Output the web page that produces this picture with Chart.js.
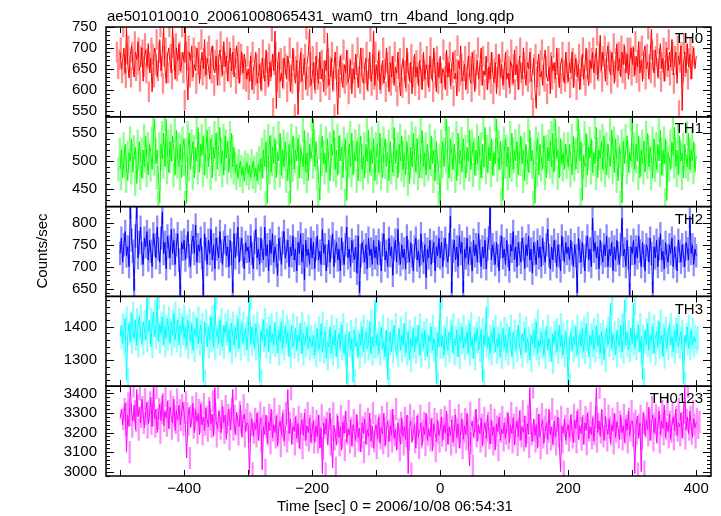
<!DOCTYPE html>
<html>
<head>
<meta charset="utf-8">
<script src="https://cdn.jsdelivr.net/npm/chart.js@4.4.1/dist/chart.umd.min.js"></script>
<style>
  body { margin: 0; background: #fff; }
  #wrap { position: relative; width: 721px; height: 516px; font-family: "Liberation Sans", Arial, sans-serif; color: #000; }
  #c { position: absolute; left: 0; top: 0; }
  .txt { position: absolute; font-size: 15px; line-height: 15px; white-space: nowrap; }
  .lab { right: 18px; }
</style>
</head>
<body>
<div id="wrap">
  <canvas id="c" width="721" height="516"></canvas>
  <div class="txt" style="left:107px; top:8px;">ae501010010_20061008065431_wam0_trn_4band_long.qdp</div>
  <div class="txt" style="left:-8px; top:243px; width:100px; line-height:16px; text-align:center; transform: rotate(-90deg);">Counts/sec</div>
  <div class="txt" style="left:277px; top:498px;">Time [sec] 0 = 2006/10/08 06:54:31</div>
  <div class="txt lab" style="top:30px;">TH0</div>
  <div class="txt lab" style="top:120px;">TH1</div>
  <div class="txt lab" style="top:211px;">TH2</div>
  <div class="txt lab" style="top:301px;">TH3</div>
  <div class="txt lab" style="top:390px;">TH0123</div>
</div>
<script>
// ---------- DATA ----------
// time bins, 2 s apart, -500 .. 400
var tStart = -500, tStep = 2, nBins = 451;
var times = [];
for (var i = 0; i < nBins; i++) times.push(tStart + i * tStep);

// counts/sec, one row = 100 s
var th0 = [
  690,650,672,700,640,750,660,628,685,705,655,630,690,672,715,645,660,700,620,680,695,655,710,640,675,595,665,700,685,630,660,720,645,690,750,655,615,680,700,665,640,750,685,625,700,670,710,645,660,690,
  665,750,640,575,690,670,705,630,660,645,700,680,615,660,690,650,720,635,675,655,625,690,705,650,640,680,610,670,695,660,635,715,655,680,620,665,700,645,690,630,660,705,675,615,650,690,640,685,660,625,
  650,620,680,600,645,665,690,615,635,660,600,675,640,620,695,650,610,665,630,685,645,740,555,660,690,620,640,605,675,650,625,680,660,595,645,700,635,615,670,540,655,690,620,640,675,600,660,685,745,610,
  630,665,600,680,640,615,690,625,650,595,670,645,735,610,630,675,600,655,690,620,540,650,680,625,605,660,640,695,615,635,670,590,650,625,685,640,605,660,700,630,615,655,675,600,640,690,620,650,740,610,
  660,625,690,600,645,670,615,635,700,650,595,665,630,680,610,655,640,690,620,585,650,675,635,605,700,645,620,665,590,640,685,630,655,610,670,640,600,690,625,660,645,605,680,635,620,700,650,595,665,630,
  680,615,650,640,600,695,630,665,610,655,690,625,640,585,670,650,705,620,635,660,600,645,680,630,615,690,655,595,640,670,625,660,700,610,645,635,680,600,655,625,690,640,615,665,590,650,685,630,660,610,
  650,690,625,640,605,670,655,615,695,635,660,600,680,645,625,700,640,610,665,650,690,620,640,675,600,555,660,685,630,645,610,670,695,635,620,655,590,680,645,665,625,700,640,605,660,675,630,615,690,645,
  620,665,640,690,605,650,675,630,660,600,645,685,625,655,700,635,610,670,650,690,640,675,700,625,660,730,645,690,665,620,680,705,650,635,690,670,615,660,710,645,675,630,690,660,705,640,685,625,665,700,
  660,700,635,680,655,715,640,670,620,690,705,650,665,625,685,745,660,640,695,670,630,680,710,650,675,620,665,700,645,690,655,720,635,670,690,615,680,660,705,550,665,690,640,710,655,685,625,675,700,650,
  680
];
var th1 = [
  485,520,470,505,530,490,465,515,500,540,480,510,525,460,495,535,505,470,520,490,545,500,475,530,515,485,540,575,495,520,470,425,530,505,550,490,575,515,480,535,500,545,520,475,555,505,490,530,470,525,
  540,495,425,520,550,485,515,535,470,525,500,560,480,530,510,545,475,520,555,490,515,540,470,525,505,550,485,530,560,495,520,475,545,505,535,480,515,550,490,525,480,495,470,488,500,475,490,465,485,498,
  478,492,470,485,500,472,488,465,495,480,505,470,520,490,535,425,510,545,480,525,495,540,470,515,500,550,475,520,490,535,505,465,530,425,515,545,485,520,500,540,470,525,510,490,555,480,515,465,530,505,
  520,575,490,535,505,470,430,525,545,495,515,480,540,500,465,530,510,555,485,520,475,545,500,525,470,515,540,430,505,530,490,550,475,515,500,535,465,520,545,485,510,470,530,500,555,480,520,495,540,465,
  505,530,480,550,500,470,520,540,490,515,465,535,505,480,560,495,520,470,530,500,545,485,515,475,535,505,460,525,490,550,510,480,540,500,470,525,555,490,515,475,530,505,485,545,495,520,465,535,500,480,
  425,510,535,490,520,575,500,470,540,515,485,530,505,465,550,495,520,480,540,510,470,525,500,555,485,515,535,475,520,495,545,505,470,530,490,560,510,480,525,500,540,475,515,495,575,520,485,535,505,430,
  515,540,490,525,470,505,550,485,520,500,535,475,510,545,495,520,465,530,505,480,555,500,520,490,425,515,540,475,530,505,485,545,510,470,525,500,535,490,550,480,575,505,520,470,540,495,515,485,530,510,
  490,530,505,475,545,515,485,520,575,500,535,430,510,490,550,475,525,505,540,480,515,495,560,470,520,505,535,485,545,500,475,530,510,490,555,520,480,540,500,465,525,510,425,535,495,520,545,480,515,500,
  575,510,485,530,500,545,470,520,495,535,480,515,550,490,525,505,470,540,510,485,530,500,555,475,520,495,540,430,515,505,485,535,510,560,490,520,475,545,500,515,470,530,505,490,550,485,520,500,535,480,
  510
];
var th2 = [
  730,765,710,750,780,725,745,700,836,760,735,645,770,836,720,755,790,730,705,765,745,780,715,760,735,700,775,750,720,790,740,710,765,825,730,755,695,770,745,720,785,730,760,705,750,775,715,635,755,740,
  760,715,745,780,725,700,755,770,730,795,710,750,735,765,720,635,775,740,705,760,730,785,715,750,695,765,740,720,780,735,705,755,770,725,745,700,760,730,640,775,720,750,790,710,740,765,725,695,755,735,
  745,710,770,730,695,755,785,720,740,705,765,735,715,790,725,750,690,760,730,775,710,745,725,680,765,740,705,755,780,720,735,760,700,745,725,770,715,740,690,755,730,775,710,750,670,760,725,740,705,765,
  720,755,695,740,770,715,735,705,785,730,750,690,725,760,710,745,775,700,735,755,715,740,690,765,730,705,750,790,720,740,700,760,735,715,745,685,770,640,725,755,735,710,750,695,765,725,740,705,760,720,
  745,705,760,730,690,750,775,715,735,700,765,725,745,680,740,760,710,785,730,705,750,720,740,695,770,735,710,755,725,690,745,765,715,735,700,775,730,710,750,675,740,720,760,705,735,755,690,745,725,765,
  720,755,700,740,765,725,710,750,815,640,735,760,715,745,700,770,730,755,640,740,720,765,705,745,730,690,760,725,750,710,775,735,700,745,720,760,695,740,765,835,715,750,730,705,755,725,690,745,770,720,
  740,705,760,725,690,750,735,780,715,745,700,755,730,710,765,740,695,750,725,770,715,740,685,755,730,705,760,720,745,700,765,730,710,750,785,725,695,745,715,760,735,700,750,725,690,770,740,710,755,730,
  745,715,760,730,700,750,725,640,765,735,710,755,725,690,745,770,715,740,700,810,735,755,720,745,695,760,730,710,750,725,770,700,740,725,755,690,745,715,760,730,705,750,810,725,740,700,760,720,635,745,
  730,760,705,745,720,770,735,700,755,725,690,750,740,710,765,730,640,745,720,760,700,740,775,715,735,695,755,725,710,750,730,765,700,745,720,690,760,735,710,750,725,700,755,740,715,815,730,750,705,740,
  725
];
var th3 = [
  1370,1405,1350,1395,1425,1240,1380,1410,1355,1440,1390,1365,1420,1345,1400,1430,1375,1350,1415,1395,1360,1488,1385,1420,1340,1405,1445,1370,1395,1488,1355,1410,1380,1430,1345,1400,1365,1425,1390,1350,1415,1375,1440,1360,1395,1420,1345,1405,1380,1430,
  1365,1400,1340,1420,1380,1355,1410,1330,1395,1370,1425,1350,1385,1405,1345,1235,1415,1375,1340,1400,1360,1430,1385,1335,1488,1370,1395,1350,1420,1365,1340,1405,1380,1415,1355,1390,1325,1410,1370,1345,1400,1360,1425,1335,1385,1410,1350,1375,1395,1330,
  1380,1488,1350,1400,1365,1335,1410,1375,1345,1235,1390,1360,1420,1340,1375,1395,1325,1405,1355,1380,1345,1410,1365,1320,1390,1355,1415,1335,1375,1400,1350,1385,1310,1370,1405,1340,1360,1395,1330,1375,1355,1410,1320,1380,1345,1365,1400,1335,1370,1350,
  1340,1375,1315,1360,1395,1330,1350,1410,1325,1365,1385,1305,1355,1340,1400,1320,1370,1345,1390,1310,1360,1380,1335,1405,1350,1320,1375,1230,1345,1385,1330,1365,1235,1390,1340,1355,1310,1380,1345,1400,1325,1360,1385,1335,1350,1415,1320,1370,1340,1480,
  1345,1380,1320,1365,1400,1335,1355,1310,1390,1240,1350,1385,1325,1370,1405,1340,1315,1360,1395,1330,1375,1345,1410,1320,1355,1385,1300,1365,1340,1395,1325,1370,1350,1405,1315,1360,1380,1335,1390,1345,1310,1375,1355,1400,1330,1365,1345,1230,1385,1340,
  1488,1340,1370,1315,1395,1350,1330,1385,1360,1405,1320,1365,1345,1390,1310,1375,1355,1400,1335,1370,1350,1385,1320,1410,1340,1365,1305,1380,1355,1395,1330,1360,1390,1235,1375,1345,1460,1335,1370,1320,1385,1355,1400,1325,1365,1340,1380,1310,1360,1395,
  1335,1375,1320,1360,1400,1345,1310,1385,1355,1330,1370,1405,1340,1315,1380,1355,1395,1325,1365,1345,1300,1375,1350,1390,1335,1415,1320,1360,1340,1385,1355,1310,1370,1400,1330,1365,1345,1295,1380,1350,1390,1325,1360,1405,1340,1375,1315,1355,1385,1335,
  1225,1360,1385,1330,1370,1345,1400,1315,1355,1380,1340,1395,1325,1365,1410,1350,1310,1375,1345,1390,1330,1360,1405,1340,1375,1320,1385,1355,1300,1370,1395,1345,1365,1470,1335,1380,1350,1315,1390,1360,1340,1405,1325,1370,1480,1345,1385,1330,1360,1395,
  1350,1470,1335,1380,1360,1405,1325,1370,1240,1355,1390,1345,1410,1330,1375,1355,1400,1320,1365,1385,1340,1415,1350,1375,1310,1395,1360,1335,1380,1405,1345,1370,1325,1390,1355,1410,1340,1365,1385,1330,1230,1375,1350,1400,1335,1360,1390,1345,1370,1355,
  1365
];
var th0123 = [
  3270,3320,3240,3300,3350,3100,3290,3230,3435,3310,3260,3340,3215,3420,3280,3330,3250,3370,3295,3225,3310,3355,3245,3290,3380,3230,3430,3270,3320,3200,3300,3345,3260,3390,3235,3310,3275,3360,3220,3330,3285,3250,3370,3210,3315,3265,3340,3240,3300,3355,
  3300,3240,3070,3285,3330,3225,3270,3350,3200,3315,3255,3300,3190,3345,3240,3280,3210,3325,3265,3230,3360,3245,3295,3180,3430,3260,3220,3310,3275,3200,3335,3250,3290,3165,3270,3320,3215,3285,3420,3240,3190,3305,3255,3230,3340,3180,3265,3295,3205,3250,
  3240,2990,3200,3270,3180,3250,3215,3300,3160,3235,3275,3010,3230,3190,3290,3145,3255,3210,3320,3175,3240,3200,3285,3130,3225,3260,3185,3300,3155,3215,3250,3420,3195,3270,3140,3230,3205,3280,3170,3245,3120,3215,3265,3185,3300,3160,3235,3200,3275,3150,
  3210,3260,3150,3235,3180,3290,3120,3225,2990,3250,3190,3270,3140,3215,3300,3165,3020,3240,3200,3135,3285,3175,3230,3110,3255,3195,3310,3150,3220,3185,3265,3130,3240,3205,3160,3290,3175,3225,3100,3250,3195,3270,3140,3215,3180,3300,3155,3235,3120,3210,
  3240,3170,3280,3145,3225,3195,3300,3130,3210,3260,3155,3235,3185,3320,3170,3215,3110,3250,3200,3140,3275,3180,3230,3165,3290,2990,3220,3260,3150,3195,3240,3120,3285,3175,3210,3250,3135,3230,3190,3300,3160,3220,3180,3270,3105,3245,3200,3155,3265,3185,
  3220,3280,3160,3240,3195,3310,3140,3230,3185,3265,3150,3215,3290,3175,3245,3120,3205,3270,3165,3235,3190,3300,3145,3030,3225,3260,3180,3215,3320,3155,3240,3195,3275,3130,3210,3250,3170,3290,3200,3140,3265,3185,3230,3110,3245,3205,3280,3160,3220,3195,
  3250,3170,3225,3300,3150,3240,3195,3275,3135,3215,3260,3180,3310,3160,3230,3200,3285,3125,3245,3190,3430,3210,3155,3270,3185,3240,3120,3295,3175,3225,3265,3145,3205,3250,3165,3320,3190,3230,3140,3260,3180,3215,3280,3150,3000,3235,3195,3270,3160,3210,
  3240,3175,3290,3205,3150,3265,3220,3310,3165,3235,3195,3280,3140,3250,3210,3300,3170,3230,3190,3275,3155,3245,3430,3200,3260,3180,3320,3215,3160,3285,3225,3190,3270,3145,3240,3205,3300,3175,3255,3220,3165,3290,3200,3235,3150,3270,3210,3310,3185,3245,
  3260,3195,2990,3240,3285,3170,3250,3000,3230,3300,3185,3265,3215,3330,3160,3245,3290,3200,3275,3150,3235,3310,3190,3260,3220,3340,3175,3255,3205,3295,3165,3240,3280,3210,3320,3185,3250,3230,3300,3170,3265,3435,3215,3280,3195,3310,3240,3175,3270,3225,
  3255
];

var series = [th0, th1, th2, th3, th0123];
var seriesNames = ['TH0', 'TH1', 'TH2', 'TH3', 'TH0123'];
// half length of the light error bars (counts/sec)
var errBars = [24, 21, 26, 35, 55];
var lineColors = ['#ff0000', '#00ff00', '#0000ff', '#00ffff', '#ff00ff'];
var errColors = ['#ff8c8c', '#8cff8c', '#8c8cff', '#8cffff', '#ff8cff'];

// axes
var xMin = -522, xMax = 423;
var xTicks = [-400, -200, 0, 200, 400];
var xMinorTicks = [-500, -400, -300, -200, -100, 0, 100, 200, 300, 400];
var yMin = [535, 419, 632, 1222, 2978];
var yMax = [750, 579, 837, 1491, 3437];
var yTicks = [
  [550, 600, 650, 700, 750],
  [450, 500, 550],
  [650, 700, 750, 800],
  [1300, 1400],
  [3000, 3100, 3200, 3300, 3400]
];
var yMinorStep = [10, 10, 10, 20, 20];

// ---------- CHART ----------
var tickFont = { family: '"Liberation Sans", Arial, sans-serif', size: 15 };

var datasets = [];
series.forEach(function (vals, i) {
  // error bars as floating bars
  datasets.push({
    type: 'bar',
    label: seriesNames[i] + ' err',
    data: vals.map(function (v, j) { return { x: times[j], y: [v - errBars[i], v + errBars[i]] }; }),
    yAxisID: 'y' + i,
    backgroundColor: errColors[i],
    borderWidth: 0,
    barThickness: 1.6,
    order: 2
  });
  datasets.push({
    type: 'line',
    label: seriesNames[i],
    data: vals.map(function (v, j) { return { x: times[j], y: v }; }),
    yAxisID: 'y' + i,
    borderColor: lineColors[i],
    borderWidth: 1,
    pointRadius: 0,
    tension: 0,
    order: 1
  });
});

var scales = {
  x: {
    type: 'linear',
    position: 'bottom',
    min: xMin,
    max: xMax,
    offset: false,
    grid: { display: false, drawTicks: false, offset: false },
    border: { display: false },
    afterBuildTicks: function (axis) { axis.ticks = xTicks.map(function (v) { return { value: v }; }); },
    afterFit: function (axis) { axis.height = 40; },
    ticks: {
      font: tickFont,
      color: '#000',
      padding: 4,
      maxRotation: 0,
      callback: function (v) { return String(v).replace('-', '\u2212'); }
    }
  }
};

// stacked y axes, one per panel (higher weight = nearer the top)
for (var k = 0; k < 5; k++) {
  (function (i) {
    scales['y' + i] = {
      type: 'linear',
      position: 'left',
      stack: 'panels',
      stackWeight: 1,
      weight: 5 - i,
      min: yMin[i],
      max: yMax[i],
      grid: { display: false, drawTicks: false },
      border: { display: false },
      afterBuildTicks: function (axis) { axis.ticks = yTicks[i].map(function (v) { return { value: v }; }); },
      afterFit: function (axis) { axis.width = 106; },
      ticks: {
        font: tickFont,
        color: '#000',
        padding: 9,
        autoSkip: false,
        callback: function (v) { return String(v); }
      }
    };
  })(k);
}

// frame + inward tick marks for every panel
var frameTicks = {
  id: 'frameTicks',
  afterDatasetsDraw: function (chart) {
    var ctx = chart.ctx;
    var xs = chart.scales.x;
    var L = chart.chartArea.left, R = chart.chartArea.right;
    ctx.save();
    ctx.strokeStyle = '#000';
    for (var i = 0; i < 5; i++) {
      var ys = chart.scales['y' + i];
      var T = ys.top, B = ys.bottom;
      ctx.lineWidth = 1;
      ctx.beginPath();
      xMinorTicks.forEach(function (v) {
        var px = Math.round(xs.getPixelForValue(v)) + 0.5;
        ctx.moveTo(px, T); ctx.lineTo(px, T + 6);
        ctx.moveTo(px, B); ctx.lineTo(px, B - 6);
      });
      var step = yMinorStep[i];
      for (var v = Math.ceil(yMin[i] / step) * step; v <= yMax[i]; v += step) {
        var py = Math.round(ys.getPixelForValue(v)) + 0.5;
        var len = yTicks[i].indexOf(v) >= 0 ? 8 : 4;
        ctx.moveTo(L, py); ctx.lineTo(L + len, py);
        ctx.moveTo(R, py); ctx.lineTo(R - len, py);
      }
      ctx.stroke();
      ctx.lineWidth = 1.5;
      ctx.strokeRect(L, T, R - L, B - T);
    }
    ctx.restore();
  }
};

var chart = new Chart(document.getElementById('c'), {
  type: 'line',
  data: { datasets: datasets },
  options: {
    responsive: false,
    animation: false,
    devicePixelRatio: 1,
    layout: { padding: { top: 27, right: 10, left: 0, bottom: 0 } },
    plugins: { legend: { display: false }, tooltip: { enabled: false } },
    scales: scales
  },
  plugins: [frameTicks]
});
</script>
</body>
</html>
